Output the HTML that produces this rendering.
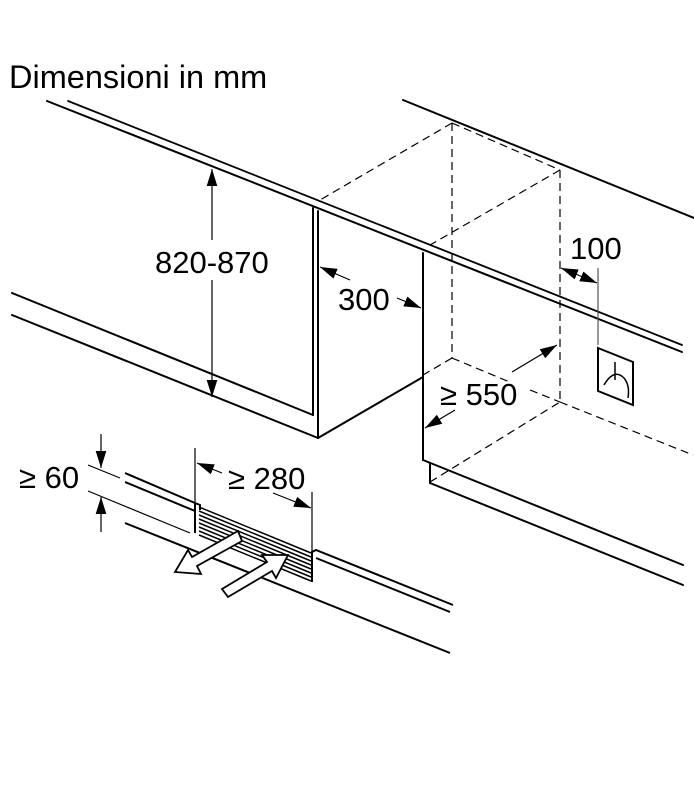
<!DOCTYPE html>
<html><head><meta charset="utf-8"><style>
html,body{margin:0;padding:0;background:#fff;}
svg{display:block;}
text{font-family:"Liberation Sans",Arial,sans-serif;fill:#000;}
</style></head><body>
<svg width="694" height="800" viewBox="0 0 694 800" xmlns="http://www.w3.org/2000/svg">
<defs>
<marker id="ahb" viewBox="0 0 16 10" refX="16" refY="5" markerWidth="17" markerHeight="12" markerUnits="userSpaceOnUse" orient="auto">
<path d="M0,0 L16,5 L0,10 Z" fill="#000"/></marker>
</defs>
<text x="9" y="88" font-size="32.5">Dimensioni in mm</text>

<g stroke="#000" stroke-width="2" fill="none" stroke-linecap="round">
<line x1="47" y1="101" x2="682" y2="352"/>
<line x1="68" y1="101" x2="682" y2="345" stroke-width="1.8"/>
<line x1="403" y1="100" x2="694" y2="218"/>
<line x1="12" y1="293" x2="313" y2="415"/>
<line x1="12" y1="315" x2="318" y2="438"/>
<line x1="313" y1="208" x2="313" y2="415"/>
<line x1="318" y1="211" x2="318" y2="438"/>
<line x1="318" y1="438" x2="423" y2="377"/>
<line x1="423" y1="253" x2="423" y2="460"/>
<line x1="423" y1="460" x2="683" y2="565"/>
<line x1="430" y1="463" x2="430" y2="483"/>
<line x1="430" y1="483" x2="683" y2="585"/>
</g>

<g stroke="#000" stroke-width="1.2" fill="none" stroke-dasharray="8 5">
<line x1="452" y1="123" x2="560" y2="170"/>
<line x1="452" y1="123" x2="320" y2="200"/>
<line x1="560" y1="170" x2="430" y2="245"/>
<line x1="452" y1="123" x2="452" y2="358"/>
<line x1="560" y1="170" x2="560" y2="402"/>
<line x1="452" y1="358" x2="423" y2="375"/>
<line x1="452" y1="358" x2="512" y2="383"/>
<line x1="530" y1="390" x2="560" y2="402"/>
<line x1="560" y1="402" x2="693" y2="455"/>
<line x1="430" y1="482" x2="560" y2="402"/>
</g>

<g stroke="#000" stroke-width="1.2" fill="none">
<line x1="212" y1="240" x2="212" y2="169" marker-end="url(#ahb)"/>
<line x1="212" y1="280" x2="212" y2="397" marker-end="url(#ahb)"/>
<line x1="350" y1="280" x2="320" y2="267" marker-end="url(#ahb)"/>
<line x1="397" y1="298" x2="421" y2="308" marker-end="url(#ahb)"/>
<line x1="578" y1="275" x2="561" y2="268" marker-end="url(#ahb)"/>
<line x1="578" y1="275" x2="597" y2="283" marker-end="url(#ahb)"/>
<line x1="598" y1="268" x2="598" y2="345" stroke="#555"/>
<line x1="512" y1="372" x2="557" y2="345" marker-end="url(#ahb)"/>
<line x1="455" y1="410" x2="425" y2="428" marker-end="url(#ahb)"/>
</g>
<g stroke="#000" stroke-width="2" fill="none">
<polygon points="598,348 633,362 633,405 598,391"/>
<line x1="615" y1="362" x2="615" y2="380" stroke-width="1.5"/>
<path d="M604,385 Q614,368 624,378 Q630,385 628,398" stroke-width="1.5"/>
</g>

<text x="155" y="273" font-size="31">820-870</text>
<text x="338" y="310" font-size="31">300</text>
<text x="570" y="259" font-size="31">100</text>
<text x="440" y="405" font-size="31">≥ 550</text>
<text x="19" y="488" font-size="31">≥ 60</text>
<text x="228" y="489" font-size="31">≥ 280</text>

<g stroke="#000" stroke-width="1.2" fill="none">
<line x1="101" y1="434" x2="101" y2="468" marker-end="url(#ahb)"/>
<line x1="101" y1="532" x2="101" y2="497" marker-end="url(#ahb)"/>
<line x1="88" y1="465" x2="120" y2="478"/>
<line x1="88" y1="491" x2="190" y2="533"/>
<line x1="195" y1="448" x2="195" y2="505"/>
<line x1="312" y1="492" x2="312" y2="552"/>
<line x1="222" y1="473" x2="197" y2="463" marker-end="url(#ahb)"/>
<line x1="273" y1="493" x2="311" y2="508" marker-end="url(#ahb)"/>
</g>
<g stroke="#000" stroke-width="2" fill="none">
<line x1="125" y1="473" x2="195" y2="503"/>
<line x1="125" y1="482" x2="195" y2="511"/>
<polyline points="195,503 200,505 200,510"/>
<line x1="195" y1="503" x2="195" y2="533"/>
<line x1="125" y1="523" x2="450" y2="653"/>
<polyline points="312,582 312,552 316,550 453,605"/>
<line x1="316" y1="558" x2="450" y2="612"/>
</g>
<g stroke="#000" stroke-width="1.5">
<line x1="199" y1="507" x2="311" y2="553"/>
<line x1="199" y1="511" x2="311" y2="557"/>
<line x1="199" y1="515" x2="311" y2="561"/>
<line x1="199" y1="519" x2="311" y2="565"/>
<line x1="199" y1="523" x2="311" y2="569"/>
<line x1="199" y1="527" x2="311" y2="573"/>
<line x1="199" y1="531" x2="311" y2="577"/>
<line x1="199" y1="535" x2="311" y2="581"/>
</g>
<g stroke="#000" stroke-width="1.8" fill="#fff" stroke-linejoin="miter">
<polygon points="242,541 197,566 201,574 175,572 188,550 192,557 238,531"/>
<polygon points="222,589 267,562 262,555 288,555 276,578 272,571 228,597"/>
</g>
</svg>
</body></html>
